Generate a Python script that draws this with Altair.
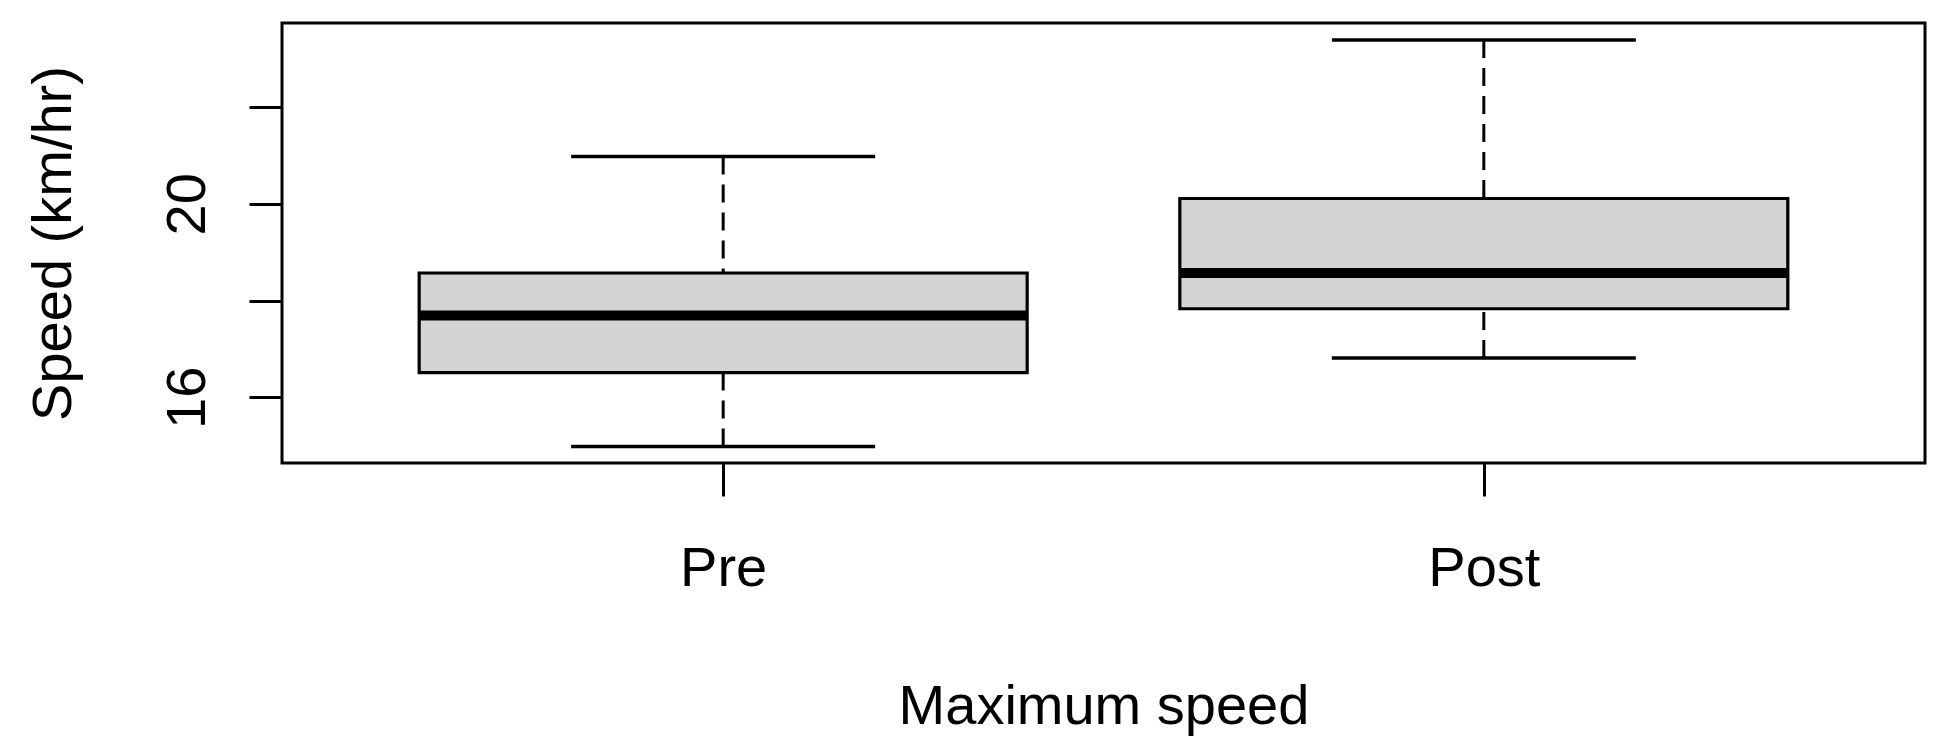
import altair as alt
import pandas as pd

groups = ["Pre", "Post"]
lower_whisker = [14.98, 16.81]
q1 = [16.51, 17.83]
median = [17.69, 18.57]
q3 = [18.57, 20.11]
upper_whisker = [20.98, 23.39]

df = pd.DataFrame({
    "group": groups,
    "lo": lower_whisker,
    "q1": q1,
    "med": median,
    "q3": q3,
    "hi": upper_whisker,
})

FONT = "Liberation Sans"
FS = 56

x_enc = alt.X(
    "group:N",
    sort=groups,
    scale=alt.Scale(type="point", padding=0.58),
    axis=alt.Axis(
        title="Maximum speed",
        labelAngle=0,
        tickSize=33,
        tickWidth=3,
        tickColor="black",
        domain=False,
        grid=False,
        labelFont=FONT,
        labelFontSize=FS,
        labelColor="black",
        labelBaseline="alphabetic",
        labelPadding=89,
        titleFont=FONT,
        titleFontSize=FS,
        titleFontWeight="normal",
        titleColor="black",
        titleX=821.5,
        titleY=260,
        titleAlign="center",
        titleBaseline="alphabetic",
    ),
)

y_scale = alt.Scale(domain=[14.64, 23.74], nice=False, zero=False)

y_axis = alt.Axis(
    title="Speed (km/hr)",
    values=[16, 18, 20, 22],
    labelExpr="(datum.value == 16 || datum.value == 20) ? datum.label : ''",
    tickSize=33,
    tickWidth=3,
    tickColor="black",
    domain=False,
    grid=False,
    labelFont=FONT,
    labelFontSize=FS,
    labelColor="black",
    labelAngle=270,
    labelAlign="center",
    labelBaseline="alphabetic",
    labelPadding=45,
    labelOverlap=False,
    titleFont=FONT,
    titleFontSize=FS,
    titleFontWeight="normal",
    titleColor="black",
    titleAngle=270,
    titleX=-212,
    titleY=220,
    titleAlign="center",
    titleBaseline="alphabetic",
)

base = alt.Chart(df)

box = base.mark_bar(size=608, fill="#D3D3D3", stroke="black", strokeWidth=3.2).encode(
    x=x_enc,
    y=alt.Y("q1:Q", scale=y_scale, axis=y_axis),
    y2="q3:Q",
)

med = base.mark_tick(size=608, thickness=10, color="black", opacity=1).encode(
    x=alt.X("group:N", sort=groups),
    y=alt.Y("med:Q"),
)

whisk_hi = base.mark_rule(color="black", strokeWidth=3, strokeDash=[18, 10]).encode(
    x=alt.X("group:N", sort=groups),
    y=alt.Y("hi:Q"),
    y2="q3:Q",
)

whisk_lo = base.mark_rule(color="black", strokeWidth=3, strokeDash=[18, 10]).encode(
    x=alt.X("group:N", sort=groups),
    y=alt.Y("lo:Q"),
    y2="q1:Q",
)

cap_hi = base.mark_tick(size=304, thickness=3.5, color="black", opacity=1).encode(
    x=alt.X("group:N", sort=groups),
    y=alt.Y("hi:Q"),
)

cap_lo = base.mark_tick(size=304, thickness=3.5, color="black", opacity=1).encode(
    x=alt.X("group:N", sort=groups),
    y=alt.Y("lo:Q"),
)

chart = (
    alt.layer(box, med, whisk_hi, whisk_lo, cap_hi, cap_lo)
    .properties(
        width=1643,
        height=440,
        autosize=alt.AutoSizeParams(type="none"),
        padding={"left": 274, "top": 15, "right": 5, "bottom": 281},
        background="white",
    )
    .configure_view(stroke="black", strokeWidth=3)
)

chart.save("out.html", embed_options={"renderer": "svg", "actions": False})
